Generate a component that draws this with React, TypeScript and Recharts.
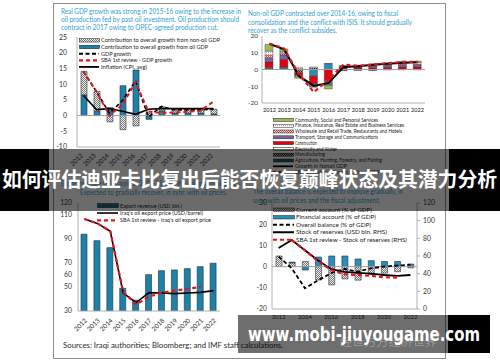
import React from 'react';
import { ComposedChart, Bar, Line, XAxis, YAxis, ReferenceLine, Legend } from 'recharts';

// ---------- shared categories ----------
const years = ['2012', '2013', '2014', '2015', '2016', '2017', '2018', '2019', '2020', '2021', '2022'];

// ---------- top-left: real GDP growth ----------
const oilContribution = [6.6, 1.4, 2.5, 9.5, 14.5, -1.2, 1.5, 0.8, 0.8, 0.8, 0.5];
const nonOilContribution = [7.4, 6.3, -2.0, -4.5, -3.3, 0.8, 1.3, 1.0, 1.0, 1.0, 1.5];
const gdpGrowth = [14.0, 7.6, 0.7, 4.8, 11.0, -0.4, 2.9, 1.8, 1.8, 1.8, 2.0];
const sbaGdpGrowth = [14.0, 7.6, 0.0, 3.5, 10.6, 1.3, 0.8, 1.0, 1.2, 1.5, 4.5];
const inflation = [6.4, 1.9, 2.2, 1.4, 0.4, 2.0, 2.2, 2.2, 2.2, 2.2, 2.2];
const tlTicks = [-10, -5, 0, 5, 10, 15, 20, 25];

// ---------- top-right: non-oil GDP by sector ----------
const agriculture = [0.5, 1.0, -0.5, -4.0, 3.5, -0.3, -0.2, -0.2, 0, 0, 0];
const manufacturing = [0.5, 0.3, -1.5, 1.0, 0, -0.4, -0.3, -0.4, -0.3, -0.2, -0.2];
const electricity = [0.3, 0.2, 0.5, 0, 0.1, 0.1, 0.1, 0.1, 0.1, 0.1, 0.1];
const construction = [3.2, 4.5, -1.5, -4.5, -6.5, 0.8, 0.8, 1.0, 1.2, 1.5, 1.5];
const transport = [2.5, 2.7, 0, -1.0, -3.0, 0.5, 0.6, 0.8, 1.0, 1.2, 1.2];
const wholesale = [1.5, 0.8, -0.5, -0.5, 0, 0.2, 0.2, 0.2, 0.3, 0.3, 0.3];
const finance = [2.5, 1.0, 0.8, 0.5, 0, 0.4, 0.4, 0.6, 0.7, 0.9, 1.0];
const community = [4.0, 1.8, -1.2, -0.6, -2.1, 0.3, 0.4, 0.6, 0.7, 0.9, 0.9];
const nonOilGrowth = [15.3, 12.0, -4.0, -9.8, -8.0, 1.5, 1.9, 2.8, 3.5, 4.1, 4.3];
const sbaNonOilGrowth = [15.5, 12.5, -3.0, -13.5, -6.0, 3.0, 2.2, 3.0, 3.8, 4.5, 4.6];
const trTicks = [-20, -15, -10, -5, 0, 5, 10, 15, 20];

// ---------- bottom-left: exports ----------
const exportRevenue = [94, 88.6, 82.8, 48.9, 39, 60.3, 63.6, 64.2, 65.3, 67, 69.8];
const oilExportPrice = [106.7, 103, 96.5, 45, 37, 45.3, 45, 44.5, 45, 45.5, 47];
const sbaOilExportPrice = [106.7, 103, 96.5, 46, 35.5, 42, 45.3, 47, 48.5, 50, null];
const blTicks = [30, 40, 50, 60, 70, 80, 90, 100, 110, 120];

// ---------- bottom-right: balance of payments ----------
const currentAccount = [5.0, 1.8, 2.4, -6.3, -8.6, -5.8, -6.4, -3.8, -3.1, -2.4, -0.6];
const financialAccount = [0.0, 0.3, -1.6, 4.5, 5.0, 5.0, 3.6, 2.8, 2.4, 2.4, 1.2];
const overallBalance = [4.7, -0.8, -10.2, -6.5, -3.0, -1.1, -2.4, -0.8, 0.0, 0.5, 0.9];
const reserves = [69, 78, 66.5, 55, 45, 42, 41, 40, 38.5, 37.5, 38.5];
const sbaReserves = [null, 78, 66.5, 54, 44, 39.5, 38.5, 37.5, 36, 35.5, null];
const brLeftTicks = [-20, -10, 0, 10, 20, 30];
const brRightTicks = [0, 20, 40, 60, 80, 100, 120];

// ---------- texts ----------
const tlTitle = [
  'Real GDP growth was strong in 2015-16 owing to the increase in',
  'oil production fed by past oil investment. Oil production should',
  'contract in 2017 owing to OPEC-agreed production cut.',
];
const trTitle = [
  'Non-oil GDP contracted over 2014-16, owing to fiscal',
  'consolidation and the conflict with ISIS. It should gradually',
  'recover as the conflict subsides.',
];
const blTitle = [
  'Export revenue fell sharply in 2015-16 with the collapse in oil prices.',
  'Expected to gradually recover, in sync with oil prices.',
];
const brTitle = [
  'The overall balance is expected to improve gradually, in',
  'sync with oil prices and the fiscal adjustment.',
];
const sourcesText = 'Sources: Iraqi authorities; Bloomberg; and IMF staff calculations.';
const bannerText = '如何评估迪亚卡比复出后能否恢复巅峰状态及其潜力分析';
const watermarkText = 'www.mobi-jiuyougame.com';
const faintText = '经世万方经济世界';

// ---------- style constants ----------
const FONT = 'Lato, "Liberation Sans", sans-serif';
const BOX = '#b0b0b0';
const TITLE = '#2d9fd2';
const TEAL = '#1f80a8';
const RED = '#e8141c';
const INK = '#2a2a2a';

const tlData = years.map((year, i) => ({
  year, oil: oilContribution[i], nonOil: nonOilContribution[i], gdp: gdpGrowth[i], sba: sbaGdpGrowth[i], cpi: inflation[i],
}));
const trData = years.map((year, i) => ({
  year, agriculture: agriculture[i], manufacturing: manufacturing[i], electricity: electricity[i], construction: construction[i],
  transport: transport[i], wholesale: wholesale[i], finance: finance[i], community: community[i],
  growth: nonOilGrowth[i], sba: sbaNonOilGrowth[i],
}));
const blData = years.map((year, i) => ({ year, revenue: exportRevenue[i], price: oilExportPrice[i], sba: sbaOilExportPrice[i] }));
const brData = years.map((year, i) => ({
  year, ca: currentAccount[i], fa: financialAccount[i], ob: overallBalance[i], res: reserves[i], sba: sbaReserves[i],
}));

type Item = { label: string; len: number; fill?: string; line?: string; dash?: string; lw?: number };

function LegendBox({ items, row, font, sw, sh, tx }: { items: Item[]; row: number; font: number; sw: number; sh: number; tx: number }) {
  const w = tx + Math.max(...items.map((it) => it.len)) + 4;
  return (
    <svg width={w} height={row * items.length} style={{ display: 'block', overflow: 'visible' }}>
      {items.map((it, i) => {
        const cy = row * i + row / 2;
        return (
          <g key={it.label}>
            {it.fill ? (
              <rect x={0.5} y={cy - sh / 2} width={sw} height={sh} fill={it.fill} stroke="#1a1a1a" strokeWidth={0.5} />
            ) : (
              <line x1={0} x2={sw} y1={cy} y2={cy} stroke={it.line} strokeWidth={it.lw ?? 1.5} strokeDasharray={it.dash} />
            )}
            <text x={tx} y={cy} dy="0.35em" fontSize={font} fontFamily={FONT} fill="#1a1a1a" textLength={it.len} lengthAdjust="spacingAndGlyphs">
              {it.label}
            </text>
          </g>
        );
      })}
    </svg>
  );
}

const makeRotTick = (fs: number, dx: number, dy: number) => (props: any) => {
  const { x, y, payload } = props;
  const px = x + dx;
  const py = y + dy;
  return (
    <text x={px} y={py} transform={`rotate(-45 ${px} ${py})`} textAnchor="end" fontSize={fs} fontFamily={FONT} fill="#333">
      {payload.value}
    </text>
  );
};

const tickStyle = (fs: number) => ({ fontSize: fs, fill: '#333', fontFamily: FONT });

const tlLegend: Item[] = [
  { label: 'Contribution to overall growth from non-oil GDP', len: 119, fill: 'url(#hatchGray)' },
  { label: 'Contribution to overall growth from oil GDP', len: 107, fill: TEAL },
  { label: 'GDP growth', len: 30, line: '#000', dash: '4 2.5', lw: 2 },
  { label: 'SBA 1st review - GDP growth', len: 71, line: RED, dash: '4 3', lw: 2.2 },
  { label: 'Inflation (CPI, avg)', len: 46, line: '#000', lw: 1.8 },
];
const trLegend: Item[] = [
  { label: 'Community, Social and Personal Services', len: 83, fill: '#9bbb59' },
  { label: 'Finance, Insurance, Real Estate and Business Services', len: 109, fill: 'url(#pFinance)' },
  { label: 'Wholesale and Retail Trade, Restaurants and Hotels', len: 107, fill: 'url(#pWholesale)' },
  { label: 'Transport, Storage and Communications', len: 83, fill: '#8064a2' },
  { label: 'Construction', len: 22, fill: '#e3000f' },
  { label: 'Electricity and Water', len: 42, fill: 'url(#pElec)' },
  { label: 'Manufacturing', len: 30, fill: 'url(#pManuf)' },
  { label: 'Agriculture, Hunting, Forestry, and Fishing', len: 87, fill: '#215f75' },
  { label: 'Growth in Nonoil GDP', len: 52, line: '#000', lw: 1.8 },
  { label: 'SBA 1st review - Growth in Nonoil GDP', len: 85, line: RED, dash: '3 2.5', lw: 2 },
];
const blLegend: Item[] = [
  { label: 'Export revenue (USD bln.)', len: 62, fill: '#1d6b86' },
  { label: "Iraq's oil export price (USD/barrel)", len: 83, line: '#000', lw: 1.6 },
  { label: "SBA 1st review - Iraq's oil export price", len: 91, line: RED, dash: '4 3', lw: 2.2 },
];
const brLegend: Item[] = [
  { label: 'Current account (% of GDP)', len: 76, fill: 'url(#hatchGray)' },
  { label: 'Financial account (% of GDP)', len: 80, fill: '#2a8dba' },
  { label: 'Overall balance (% of GDP)', len: 75, line: '#000', dash: '4 2.5', lw: 2 },
  { label: 'Stock of reserves (USD bln. RHS)', len: 91, line: '#000', lw: 2 },
  { label: 'SBA 1st review - Stock of reserves (RHS)', len: 111, line: RED, dash: '4 3', lw: 2.2 },
];

const legendWrap = (left: number, top: number) => ({ left, top, width: 'auto', height: 'auto', lineHeight: 0 });

function TopLeft() {
  return (
    <ComposedChart width={170} height={140} data={tlData} margin={{ top: 4, right: 3, left: 0, bottom: 0 }} stackOffset="sign" barSize={6}>
      <XAxis dataKey="year" interval={0} tickLine={false} tickSize={0} tickMargin={3} axisLine={{ stroke: BOX }} height={26} tick={makeRotTick(6.5, 0, 6)} />
      <XAxis xAxisId="top" dataKey="year" orientation="top" height={0} tick={false} tickLine={false} axisLine={{ stroke: BOX }} />
      <YAxis domain={[-10, 25]} ticks={tlTicks} width={24} tickLine={false} tickMargin={4} axisLine={{ stroke: BOX }} tick={tickStyle(7)} allowDataOverflow />
      <YAxis yAxisId="box" orientation="right" width={0} tick={false} tickLine={false} axisLine={{ stroke: BOX }} />
      <ReferenceLine y={0} stroke="#a0a0a0" />
      <Bar dataKey="oil" stackId="g" fill={TEAL} stroke="#15313d" strokeWidth={0.6} isAnimationActive={false} />
      <Bar dataKey="nonOil" stackId="g" fill="url(#hatchGray)" stroke="#333" strokeWidth={0.6} isAnimationActive={false} />
      <Line dataKey="cpi" stroke="#000" strokeWidth={1.6} dot={false} isAnimationActive={false} />
      <Line dataKey="gdp" stroke="#000" strokeWidth={1.6} strokeDasharray="4 2.5" dot={false} isAnimationActive={false} />
      <Line dataKey="sba" stroke={RED} strokeWidth={2} strokeDasharray="4 3" dot={false} isAnimationActive={false} />
      <Legend layout="vertical" align="center" verticalAlign="middle" wrapperStyle={legendWrap(26, 3.7)}
        content={() => <LegendBox items={tlLegend} row={6.65} font={6} sw={20} sh={3.5} tx={22} />} />
    </ComposedChart>
  );
}

function TopRight() {
  const sectors: [string, string][] = [
    ['agriculture', '#2f8db3'], ['manufacturing', 'url(#pManuf)'], ['electricity', 'url(#pElec)'], ['construction', '#e3000f'],
    ['transport', '#8064a2'], ['wholesale', 'url(#pWholesale)'], ['finance', 'url(#pFinance)'], ['community', '#9bbb59'],
  ];
  return (
    <ComposedChart width={192} height={146} data={trData} margin={{ top: 4, right: 3, left: 0, bottom: 60 }} stackOffset="sign" barSize={8}>
      <XAxis dataKey="year" interval={0} tickLine={false} tickSize={0} tickMargin={5} axisLine={{ stroke: BOX }} height={15} tick={{ ...tickStyle(5.6), fill: '#111' }} />
      <XAxis xAxisId="top" dataKey="year" orientation="top" height={0} tick={false} tickLine={false} axisLine={{ stroke: BOX }} />
      <YAxis domain={[-20, 20]} ticks={trTicks} width={26} tickLine={false} tickSize={2} tickMargin={2} axisLine={{ stroke: BOX }} tick={tickStyle(6.5)} allowDataOverflow />
      <YAxis yAxisId="box" orientation="right" width={0} tick={false} tickLine={false} axisLine={{ stroke: BOX }} />
      <ReferenceLine y={0} stroke="#a0a0a0" />
      {sectors.map(([key, fill]) => (
        <Bar key={key} dataKey={key} stackId="s" fill={fill} stroke="#333" strokeWidth={0.4} isAnimationActive={false} />
      ))}
      <Line dataKey="growth" stroke="#000" strokeWidth={2} dot={false} isAnimationActive={false} />
      <Line dataKey="sba" stroke={RED} strokeWidth={2.2} strokeDasharray="4 3" dot={false} isAnimationActive={false} />
      <Legend layout="vertical" align="center" verticalAlign="middle" wrapperStyle={legendWrap(37, 85.1)}
        content={() => <LegendBox items={trLegend} row={5.8} font={4.8} sw={20} sh={3} tx={22} />} />
    </ComposedChart>
  );
}

function BottomLeft() {
  return (
    <ComposedChart width={170} height={140} data={blData} margin={{ top: 4, right: 3, left: 0, bottom: 0 }} barSize={6}>
      <XAxis dataKey="year" interval={0} tickLine={false} tickSize={0} tickMargin={3} axisLine={{ stroke: BOX }} height={28} tick={makeRotTick(6.5, 3, 7)} />
      <XAxis xAxisId="top" dataKey="year" orientation="top" height={0} tick={false} tickLine={false} axisLine={{ stroke: BOX }} />
      <YAxis domain={[30, 120]} ticks={blTicks} width={25} tickLine={false} tickSize={6} tickMargin={0} axisLine={{ stroke: BOX }} tick={tickStyle(6.8)} allowDataOverflow />
      <YAxis yAxisId="box" orientation="right" width={0} tick={false} tickLine={false} axisLine={{ stroke: BOX }} />
      <Bar dataKey="revenue" fill={TEAL} stroke="#15313d" strokeWidth={0.6} isAnimationActive={false} />
      <Line dataKey="price" stroke="#000" strokeWidth={1.6} dot={false} isAnimationActive={false} />
      <Line dataKey="sba" stroke={RED} strokeWidth={2.2} strokeDasharray="4 3" dot={false} isAnimationActive={false} />
      <Legend layout="vertical" align="center" verticalAlign="middle" wrapperStyle={legendWrap(44, 3.3)}
        content={() => <LegendBox items={blLegend} row={7.35} font={5.6} sw={21} sh={4} tx={23} />} />
    </ComposedChart>
  );
}

function BottomRight() {
  return (
    <ComposedChart width={205} height={130} data={brData} margin={{ top: 4, right: 0, left: 0, bottom: 0 }} stackOffset="sign" barSize={6}>
      <XAxis dataKey="year" interval={1} tickLine={false} tickSize={0} tickMargin={6} axisLine={{ stroke: BOX }} height={20} tick={tickStyle(6)} />
      <XAxis xAxisId="top" dataKey="year" orientation="top" height={0} tick={false} tickLine={false} axisLine={{ stroke: BOX }} />
      <YAxis yAxisId="left" domain={[-20, 30]} ticks={brLeftTicks} width={36} tickLine={false} tickSize={3} tickMargin={2} axisLine={{ stroke: BOX }} tick={tickStyle(6.8)} allowDataOverflow />
      <YAxis yAxisId="right" orientation="right" domain={[0, 120]} ticks={brRightTicks} width={24} tickLine={{ stroke: BOX }} tickSize={3} tickMargin={3} axisLine={{ stroke: BOX }} tick={tickStyle(6.8)} allowDataOverflow />
      <ReferenceLine yAxisId="left" y={0} stroke="#a0a0a0" />
      <Bar yAxisId="left" dataKey="ca" stackId="b" fill="url(#hatchGray)" stroke="#333" strokeWidth={0.6} isAnimationActive={false} />
      <Bar yAxisId="left" dataKey="fa" stackId="b" fill="#2a8dba" stroke="#15313d" strokeWidth={0.6} isAnimationActive={false} />
      <Line yAxisId="left" dataKey="ob" stroke="#000" strokeWidth={1.8} strokeDasharray="4 2.5" dot={false} isAnimationActive={false} />
      <Line yAxisId="right" dataKey="res" stroke="#000" strokeWidth={1.8} dot={false} isAnimationActive={false} />
      <Line yAxisId="right" dataKey="sba" stroke={RED} strokeWidth={2.2} strokeDasharray="4 3" dot={false} isAnimationActive={false} />
      <Legend layout="vertical" align="center" verticalAlign="middle" wrapperStyle={legendWrap(37, 7.25)}
        content={() => <LegendBox items={brLegend} row={7.5} font={6.2} sw={21} sh={3.5} tx={23} />} />
    </ComposedChart>
  );
}

function TitleLines({ lines, x, ys, lens, xs }: { lines: string[]; x: number; ys: number[]; lens: number[]; xs?: number[] }) {
  return (
    <g>
      {lines.map((t, i) => (
        <text key={t} x={xs ? xs[i] : x} y={ys[i]} dy="0.35em" fontSize={7.4} fontFamily={FONT} fill={TITLE} textLength={lens[i]} lengthAdjust="spacingAndGlyphs">
          {t}
        </text>
      ))}
    </g>
  );
}

const place = (left: number, top: number): React.CSSProperties => ({ position: 'absolute', left, top });

export default function App() {
  return (
    <div style={{ position: 'absolute', left: 0, top: 0, width: 500, height: 362, background: '#fff', overflow: 'hidden', fontFamily: FONT }}>
      <svg width={0} height={0} style={{ position: 'absolute' }}>
        <defs>
          <pattern id="hatchGray" width="2" height="2" patternUnits="userSpaceOnUse">
            <rect width="2" height="2" fill="#eeeeee" />
            <rect width="1" height="1" fill="#7a7a7a" />
            <rect x="1" y="1" width="1" height="1" fill="#7a7a7a" />
          </pattern>
          <pattern id="pFinance" width="2" height="2" patternUnits="userSpaceOnUse">
            <rect width="2" height="2" fill="#ffffff" />
            <rect width="1" height="1" fill="#e39a9a" />
          </pattern>
          <pattern id="pWholesale" width="2" height="2" patternUnits="userSpaceOnUse">
            <rect width="2" height="2" fill="#f2dcdb" />
            <rect width="1" height="1" fill="#c0504d" />
            <rect x="1" y="1" width="1" height="1" fill="#c0504d" />
          </pattern>
          <pattern id="pElec" width="2" height="2" patternUnits="userSpaceOnUse">
            <rect width="2" height="2" fill="#fbfbef" />
            <rect width="1" height="1" fill="#c4d79b" />
          </pattern>
          <pattern id="pManuf" width="2" height="2" patternUnits="userSpaceOnUse">
            <rect width="2" height="2" fill="#a6a6a6" />
            <rect width="1" height="1" fill="#303030" />
            <rect x="1" y="1" width="1" height="1" fill="#303030" />
          </pattern>
        </defs>
      </svg>

      <div style={{ position: 'absolute', left: 53, top: 3, width: 391, height: 354, border: '1px solid #8c8c8c' }} />

      <div style={place(53, 33)}><TopLeft /></div>
      <div style={place(236, 32)}><TopRight /></div>
      <div style={place(53, 199)}><BottomLeft /></div>
      <div style={place(236, 199)}><BottomRight /></div>

      <svg width={500} height={362} style={{ position: 'absolute', left: 0, top: 0, pointerEvents: 'none' }}>
        <TitleLines lines={tlTitle} x={61} ys={[11.7, 19.5, 27.3]} lens={[180, 178, 157]} />
        <TitleLines lines={trTitle} x={248} ys={[13.3, 22.1, 30]} lens={[150, 164, 89]} />
        <TitleLines lines={blTitle} x={61} xs={[61, 80]} ys={[183.5, 192.7]} lens={[180, 147]} />
        <TitleLines lines={brTitle} x={253} ys={[191.5, 200]} lens={[150, 127]} />
        <text x={63} y={345.7} dy="0.35em" fontSize={7} fontFamily={FONT} fill={INK} textLength={220} lengthAdjust="spacingAndGlyphs">
          {sourcesText}
        </text>

        {/* title banner */}
        <rect x={0} y={149} width={49} height={62} fill="#000" />
        <rect x={49} y={149} width={400} height={62} fill="rgba(0,0,0,0.58)" />
        <rect x={449} y={149} width={51} height={62} fill="#000" />
        <text x={2} y={180} dy="0.36em" fontSize={20} fontWeight={700} fontFamily='"Noto Sans CJK SC", sans-serif' fill="#fff" textLength={495} lengthAdjust="spacingAndGlyphs">
          {bannerText}
        </text>

        {/* watermark band */}
        <rect x={238} y={315} width={210} height={38} fill="rgba(0,0,0,0.57)" />
        <rect x={448} y={315} width={42} height={38} fill="#000" />
        <text x={340} y={346} fontSize={10} fontFamily='"Noto Sans CJK SC", sans-serif' fill="#9a9a9a" textLength={97} lengthAdjust="spacingAndGlyphs">
          {faintText}
        </text>
        <text x={248} y={341} fontSize={19} fontWeight={700} fontFamily='"DejaVu Sans", sans-serif' fill="#fff" textLength={232} lengthAdjust="spacingAndGlyphs">
          {watermarkText}
        </text>
      </svg>
    </div>
  );
}
